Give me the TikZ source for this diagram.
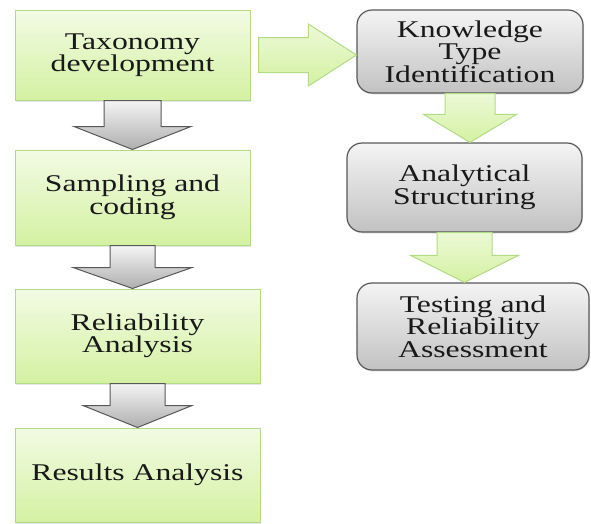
\documentclass[tikz,border=0pt]{standalone}
\usepackage{fontspec}
\setmainfont[FakeStretch=1.32]{Liberation Serif}
\usepackage{xcolor}
\usetikzlibrary{calc,shadows}

\definecolor{greentop}{HTML}{F2FBE4}
\definecolor{greenbot}{HTML}{D4F1A2}
\definecolor{greenline}{HTML}{B3DB86}
\definecolor{graytop}{HTML}{F4F4F4}
\definecolor{graybot}{HTML}{C2C2C2}
\definecolor{grayline}{HTML}{585858}

% block arrow pointing down: style, from, to, shaft half, head half, head length
\newcommand{\blockdown}[6]{%
  \path[#1] let \p1=(#2.south), \p2=(#3.north) in
    (\x1-#4pt,\y1) -- (\x1+#4pt,\y1) -- (\x1+#4pt,\y2+#6pt) -- (\x1+#5pt,\y2+#6pt)
    -- (\x1,\y2) -- (\x1-#5pt,\y2+#6pt) -- (\x1-#4pt,\y2+#6pt) -- cycle;}

% block arrow pointing right: style, from, to, shaft half, head half, head length
\newcommand{\blockright}[6]{%
  \path[#1] let \p1=(#2.east), \p2=(#3.west) in
    (\x1+8pt,\y1+#4pt) -- (\x2-#6pt,\y1+#4pt) -- (\x2-#6pt,\y1+#5pt) -- (\x2,\y1)
    -- (\x2-#6pt,\y1-#5pt) -- (\x2-#6pt,\y1-#4pt) -- (\x1+8pt,\y1-#4pt) -- cycle;}

\begin{document}
\begin{tikzpicture}[x=1pt, y=-1pt]
        \tikzstyle{stepgreen}=[draw=greenline, line width=1pt, top color=greentop, bottom color=greenbot,
                               drop shadow={opacity=0.2, shadow xshift=1pt, shadow yshift=-1.5pt},
                               align=center, text=black!90, font=\fontsize{24}{22.5}\selectfont]
        \tikzstyle{stepgray}=[draw=grayline, line width=1.2pt, rounded corners=15pt, top color=graytop, bottom color=graybot,
                              drop shadow={opacity=0.2, shadow xshift=1pt, shadow yshift=-1.5pt},
                              align=center, text=black!90, font=\fontsize{24}{22.5}\selectfont]
        \tikzstyle{grayarrow}=[draw=grayline, line width=1pt, top color=graytop, bottom color=graybot!90!black]
        \tikzstyle{greenarrow}=[draw=greenline, line width=1pt, top color=greentop!80!greenbot, bottom color=greenbot]

        \useasboundingbox (0,0) rectangle (591,523);

        % Left column
        \node at (132.5, 55) [stepgreen, minimum width=235pt, minimum height=90pt] (taxonomy) {Taxonomy\\development};
        \node at (132.5, 197.5) [stepgreen, minimum width=235pt, minimum height=95pt] (sampling) {Sampling and\\coding};
        \node at (137.5, 336) [stepgreen, minimum width=245pt, minimum height=94pt] (reliability) {Reliability\\Analysis};
        \node at (137.5, 475) [stepgreen, minimum width=245pt, minimum height=94pt] (results) {Results Analysis};

        % Right column
        \node at (470, 51.5) [stepgray, minimum width=226pt, minimum height=83pt] (knowledge) {Knowledge\\Type\\Identification};
        \node at (464.5, 187.5) [stepgray, minimum width=235pt, minimum height=89pt] (structuring) {Analytical\\Structuring};
        \node at (473, 326.5) [stepgray, minimum width=232pt, minimum height=87pt] (testing) {Testing and\\Reliability\\Assessment};

        % Left column -> arrows
        \blockdown{grayarrow}{taxonomy}{sampling}{28.5}{58.5}{23}
        \blockdown{grayarrow}{sampling}{reliability}{22.5}{59.5}{21}
        \blockdown{grayarrow}{reliability}{results}{27.5}{54.5}{22}

        % Right column -> arrows
        \blockright{greenarrow}{taxonomy}{knowledge}{17.5}{31}{48}
        \blockdown{greenarrow}{knowledge}{structuring}{25}{46.5}{28}
        \blockdown{greenarrow}{structuring}{testing}{27.5}{54}{27}

    \end{tikzpicture}
\end{document}
